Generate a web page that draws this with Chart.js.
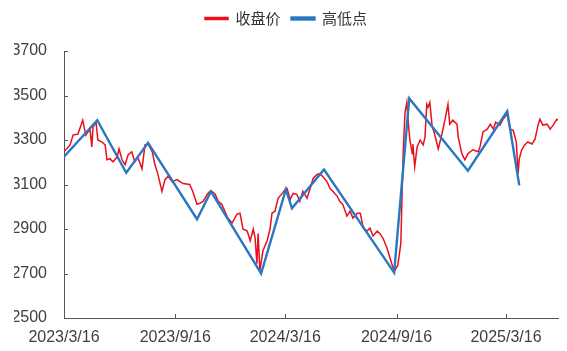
<!DOCTYPE html>
<html>
<head>
<meta charset="utf-8">
<script src="https://cdn.jsdelivr.net/npm/chart.js@4"></script>
<style>
  html, body { margin: 0; padding: 0; background: #fff; }
  #wrap { width: 567px; height: 351px; }
</style>
</head>
<body>
<div id="wrap"><canvas id="chart" width="567" height="351"></canvas></div>
<script>
/* ========= Data (x = calendar days since 2023/3/16) ========= */
const closeDays = [0, 10, 15, 23, 31, 36, 43, 46, 48, 53, 56, 63, 68, 71, 76, 81, 88, 91, 96, 101,
  106, 112, 117, 122, 129, 134, 139, 146, 150, 155, 162, 167, 172, 179, 187, 192, 197, 208, 213, 220,
  225, 230, 237, 241, 245, 250, 255, 261, 266, 271, 278, 286, 291, 296, 303, 308, 313, 316, 319, 321,
  324, 329, 336, 341, 344, 349, 354, 361, 366, 369, 374, 379, 385, 390, 395, 402, 407, 412, 418, 423,
  428, 435, 440, 445, 452, 456, 461, 468, 473, 478, 485, 490, 495, 501, 506, 511, 518, 523, 528, 534,
  539, 544, 547, 552, 557, 561, 564, 567, 569, 572, 576, 577, 580, 584, 589, 594, 597, 600, 602, 605,
  609, 612, 617, 619, 625, 630, 635, 638, 643, 650, 652, 658, 663, 668, 676, 685, 688, 693, 700, 705,
  710, 714, 721, 726, 733, 738, 743, 748, 751, 753, 757, 762, 767, 774, 779, 784, 787, 792, 799, 804,
  809, 815, 817];
const closeValues = [3247, 3278, 3322, 3327, 3389, 3322, 3349, 3269, 3358, 3380, 3300, 3291, 3278, 3211, 3216, 3202, 3224, 3260, 3211, 3189,
  3233, 3247, 3202, 3224, 3171, 3278, 3282, 3247, 3193, 3149, 3069, 3122, 3136, 3113, 3122, 3113, 3104, 3100, 3069, 3011,
  3016, 3024, 3056, 3069, 3069, 3056, 3024, 3011, 2980, 2949, 2927, 2967, 2971, 2900, 2891, 2847, 2900, 2860, 2744, 2880,
  2713, 2802, 2847, 2904, 2971, 2980, 3038, 3060, 3078, 3082, 3033, 3060, 3056, 3024, 3069, 3038, 3082, 3127, 3144, 3149,
  3136, 3113, 3082, 3069, 3047, 3024, 3011, 2958, 2980, 2949, 2971, 2971, 2904, 2891, 2904, 2869, 2891, 2878, 2856, 2816,
  2771, 2727, 2713, 2736, 2833, 3247, 3424, 3469, 3389, 3300, 3238, 3282, 3180, 3269, 3300, 3278, 3313, 3460, 3447, 3469,
  3358, 3336, 3282, 3260, 3327, 3389, 3460, 3371, 3389, 3371, 3313, 3238, 3211, 3238, 3256, 3247, 3269, 3336, 3349, 3371,
  3349, 3380, 3367, 3393, 3416, 3349, 3344, 3291, 3150, 3216, 3256, 3278, 3291, 3282, 3304, 3367, 3393, 3367, 3371, 3349,
  3367, 3393, 3389];

const pivotDays = [0, 55, 103, 139, 220, 243, 326, 367, 377, 430, 546, 571, 668, 733, 753];
const pivotValues = [3225, 3389, 3153, 3287, 2944, 3069, 2700, 3078, 2993, 3167, 2704, 3487, 3162, 3429, 3096];

const tickDays = [0, 184, 366, 550, 731];
const tickLabels = ["2023/3/16", "2023/9/16", "2024/3/16", "2024/9/16", "2025/3/16"];

const X_MAX = 817;
const RED = "#e8101c";
const BLUE = "#2a77c4";
const AXIS = "#555";
const TEXT = "#404040";
const AXIS_FONT = { size: 16, family: "'Liberation Sans', Arial, sans-serif" };

/* ========= Helpers ========= */
function toPoints(xs, ys) {
  return xs.map((x, i) => ({ x: x, y: ys[i] }));
}

// extra room under the legend
const legendGap = {
  id: "legendGap",
  beforeInit(chart) {
    const fit = chart.legend.fit;
    chart.legend.fit = function () {
      fit.call(this);
      this.height += 15;
    };
  }
};

// small tick marks pointing into the plot area
const innerTicks = {
  id: "innerTicks",
  afterDraw(chart) {
    const { ctx, chartArea, scales } = chart;
    ctx.save();
    ctx.strokeStyle = AXIS;
    ctx.lineWidth = 1;
    ctx.beginPath();
    scales.y.ticks.forEach(t => {
      const y = Math.round(scales.y.getPixelForValue(t.value)) + 0.5;
      ctx.moveTo(chartArea.left, y);
      ctx.lineTo(chartArea.left + 4, y);
    });
    scales.x.ticks.forEach(t => {
      const x = Math.round(scales.x.getPixelForValue(t.value)) + 0.5;
      ctx.moveTo(x, chartArea.bottom);
      ctx.lineTo(x, chartArea.bottom - 4);
    });
    ctx.stroke();
    ctx.restore();
  }
};

/* ========= Chart ========= */
const ctx = document.getElementById("chart").getContext("2d");
new Chart(ctx, {
  type: "line",
  data: {
    datasets: [
      { label: "收盘价", data: toPoints(closeDays, closeValues), borderColor: RED, backgroundColor: RED,
        borderWidth: 1.5, pointRadius: 0, tension: 0, order: 1 },
      { label: "高低点", data: toPoints(pivotDays, pivotValues), borderColor: BLUE, backgroundColor: BLUE,
        borderWidth: 2.4, pointRadius: 0, tension: 0, order: 0 }
    ]
  },
  options: {
    responsive: false,
    animation: false,
    layout: { padding: { left: 14, right: 9, top: 0, bottom: 0 } },
    plugins: {
      tooltip: { enabled: false },
      legend: {
        position: "top",
        labels: {
          boxWidth: 23, boxHeight: 2, padding: 11,
          color: "#333",
          font: { size: 15, family: "'Noto Sans CJK SC', 'Liberation Sans', sans-serif" },
          sort: (a, b) => a.datasetIndex - b.datasetIndex
        }
      }
    },
    scales: {
      x: {
        type: "linear", min: 0, max: X_MAX,
        grid: { display: false },
        border: { display: true, color: AXIS, width: 1 },
        afterBuildTicks: s => { s.ticks = tickDays.map(v => ({ value: v })); },
        afterFit: s => { s.height = 33; },
        ticks: {
          autoSkip: false, maxRotation: 0, padding: 2, color: TEXT,
          font: AXIS_FONT,
          callback: (v) => tickLabels[tickDays.indexOf(v)]
        }
      },
      y: {
        min: 2500, max: 3700,
        grid: { display: false },
        border: { display: true, color: AXIS, width: 1 },
        afterFit: s => { s.width = 50; },
        ticks: {
          stepSize: 200, padding: 9, color: TEXT,
          font: AXIS_FONT,
          callback: (v) => String(v)
        }
      }
    }
  },
  plugins: [legendGap, innerTicks]
});
</script>
</body>
</html>
